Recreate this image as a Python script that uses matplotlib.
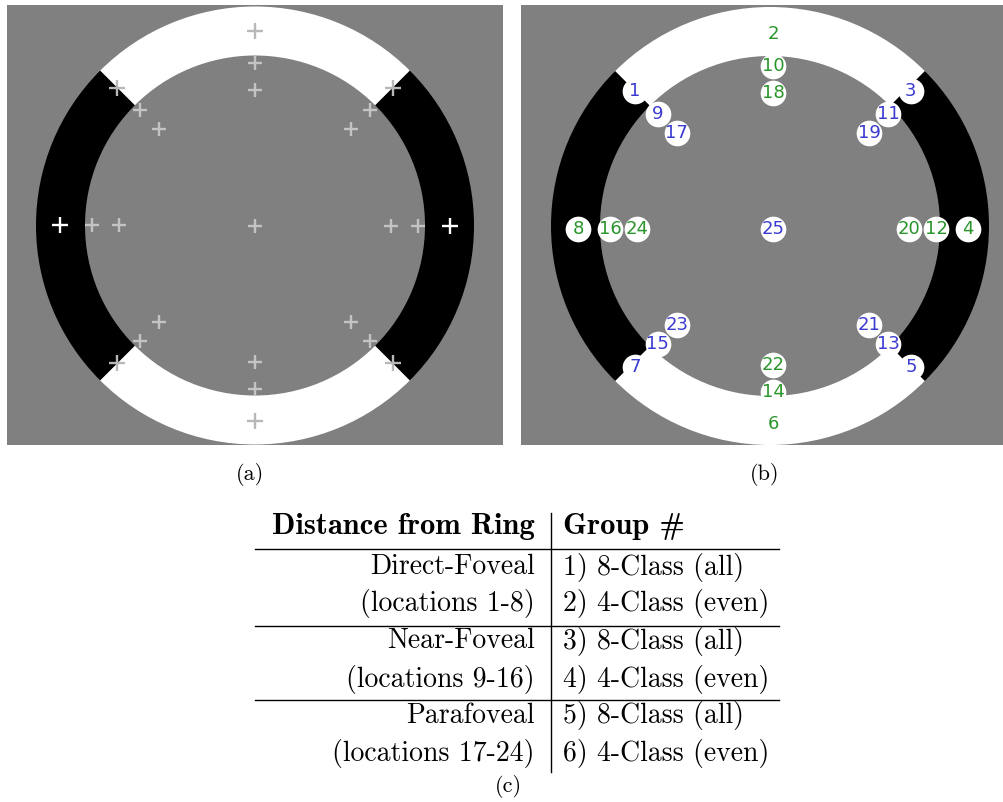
import numpy as np
import matplotlib
matplotlib.use("Agg")
import matplotlib.pyplot as plt
from matplotlib.patches import Wedge

# ring geometry (in image pixels, relative to ring centre)
ring_r_in, ring_r_out = 170, 219
# angles of locations 1-8, clockwise starting top-left
loc_angles = [135, 90, 45, 0, -45, -90, -135, 180]
# radius of each group of 8 locations: direct-foveal, near-foveal, parafoveal
band_radii = [195, 163, 136]
centre_id = 25

# table contents
col_headers = ["Distance from Ring", "Group #"]
dist_labels = ["Direct-Foveal", "(locations 1-8)",
               "Near-Foveal", "(locations 9-16)",
               "Parafoveal", "(locations 17-24)"]
group_labels = ["1) 8-Class (all)", "2) 4-Class (even)",
                "3) 8-Class (all)", "4) 4-Class (even)",
                "5) 8-Class (all)", "6) 4-Class (even)"]
captions = ["(a)", "(b)", "(c)"]

GRAY = "#808080"
BLUE = "#3b3bd0"
GREEN = "#2a952a"

W, H = 1004, 802
fig = plt.figure(figsize=(W / 100, H / 100), dpi=100)


def pix_axes(x0, y0, x1, y1):
    return fig.add_axes([x0 / W, 1 - y1 / H, (x1 - x0) / W, (y1 - y0) / H])


def draw_ring(ax):
    ax.set_facecolor(GRAY)
    for t1, t2, c in [(45, 135, "white"), (225, 315, "white"),
                      (135, 225, "black"), (-45, 45, "black")]:
        ax.add_patch(Wedge((0, 0), ring_r_out, t1, t2,
                           width=ring_r_out - ring_r_in, color=c, lw=0))
    ax.set_xticks([])
    ax.set_yticks([])
    for s in ax.spines.values():
        s.set_visible(False)


# build location list
ids, xs, ys = [], [], []
for b, r in enumerate(band_radii):
    for k, a in enumerate(loc_angles):
        ids.append(8 * b + k + 1)
        xs.append(r * np.cos(np.radians(a)))
        ys.append(r * np.sin(np.radians(a)))
ids.append(centre_id)
xs.append(0.0)
ys.append(0.0)
xs = np.array(xs)
ys = np.array(ys)

# (a) fixation crosses
axa = pix_axes(7, 5, 503, 445)
axa.set_xlim(-248, 248)
axa.set_ylim(-219.5, 220.5)
draw_ring(axa)
for i, x, y in zip(ids, xs, ys):
    if i in (4, 8):
        col, ms = "white", 11
    elif i <= 8:
        col, ms = "#b8b8b8", 11
    else:
        col, ms = "#c4c4c4", 10
    axa.plot(x, y, marker="+", ms=ms, mew=1.7, color=col)

# (b) numbered locations
axb = pix_axes(521, 5, 1004, 445)
axb.set_xlim(-249, 234)
axb.set_ylim(-219, 221)
draw_ring(axb)
dx, dy = 3, -3
for i, x, y in zip(ids, xs, ys):
    axb.plot(x + dx, y + dy, "o", ms=18.5, mfc="white", mec="none")
    col = GREEN if i % 2 == 0 else BLUE
    axb.text(x + dx, y + dy, str(i), color=col, fontsize=13,
             ha="center", va="center", family="DejaVu Sans")

# (c) table
axt = pix_axes(0, 0, W, H)
axt.set_xlim(0, W)
axt.set_ylim(H, 0)
axt.axis("off")

rm = dict(family="cmr10", fontsize=20, va="center")
bf = dict(family="cmb10", fontsize=22, va="center")
axt.text(535, 527, col_headers[0], ha="right", **bf)
axt.text(563, 527, col_headers[1], ha="left", **bf)
row_y = [567, 604, 641, 679, 716, 754]
for y, d, g in zip(row_y, dist_labels, group_labels):
    axt.text(535, y, d, ha="right", **rm)
    axt.text(563, y, g, ha="left", **rm)
for y in [549, 626, 700]:
    axt.plot([255, 779], [y, y], color="black", lw=1.0)
axt.plot([551, 551], [513, 772], color="black", lw=1.0)

cap = dict(family="cmr10", fontsize=16, ha="center", va="center")
axt.text(250, 475, captions[0], **cap)
axt.text(765, 475, captions[1], **cap)
axt.text(508, 786, captions[2], **cap)

fig.savefig("out.png", dpi=100)
